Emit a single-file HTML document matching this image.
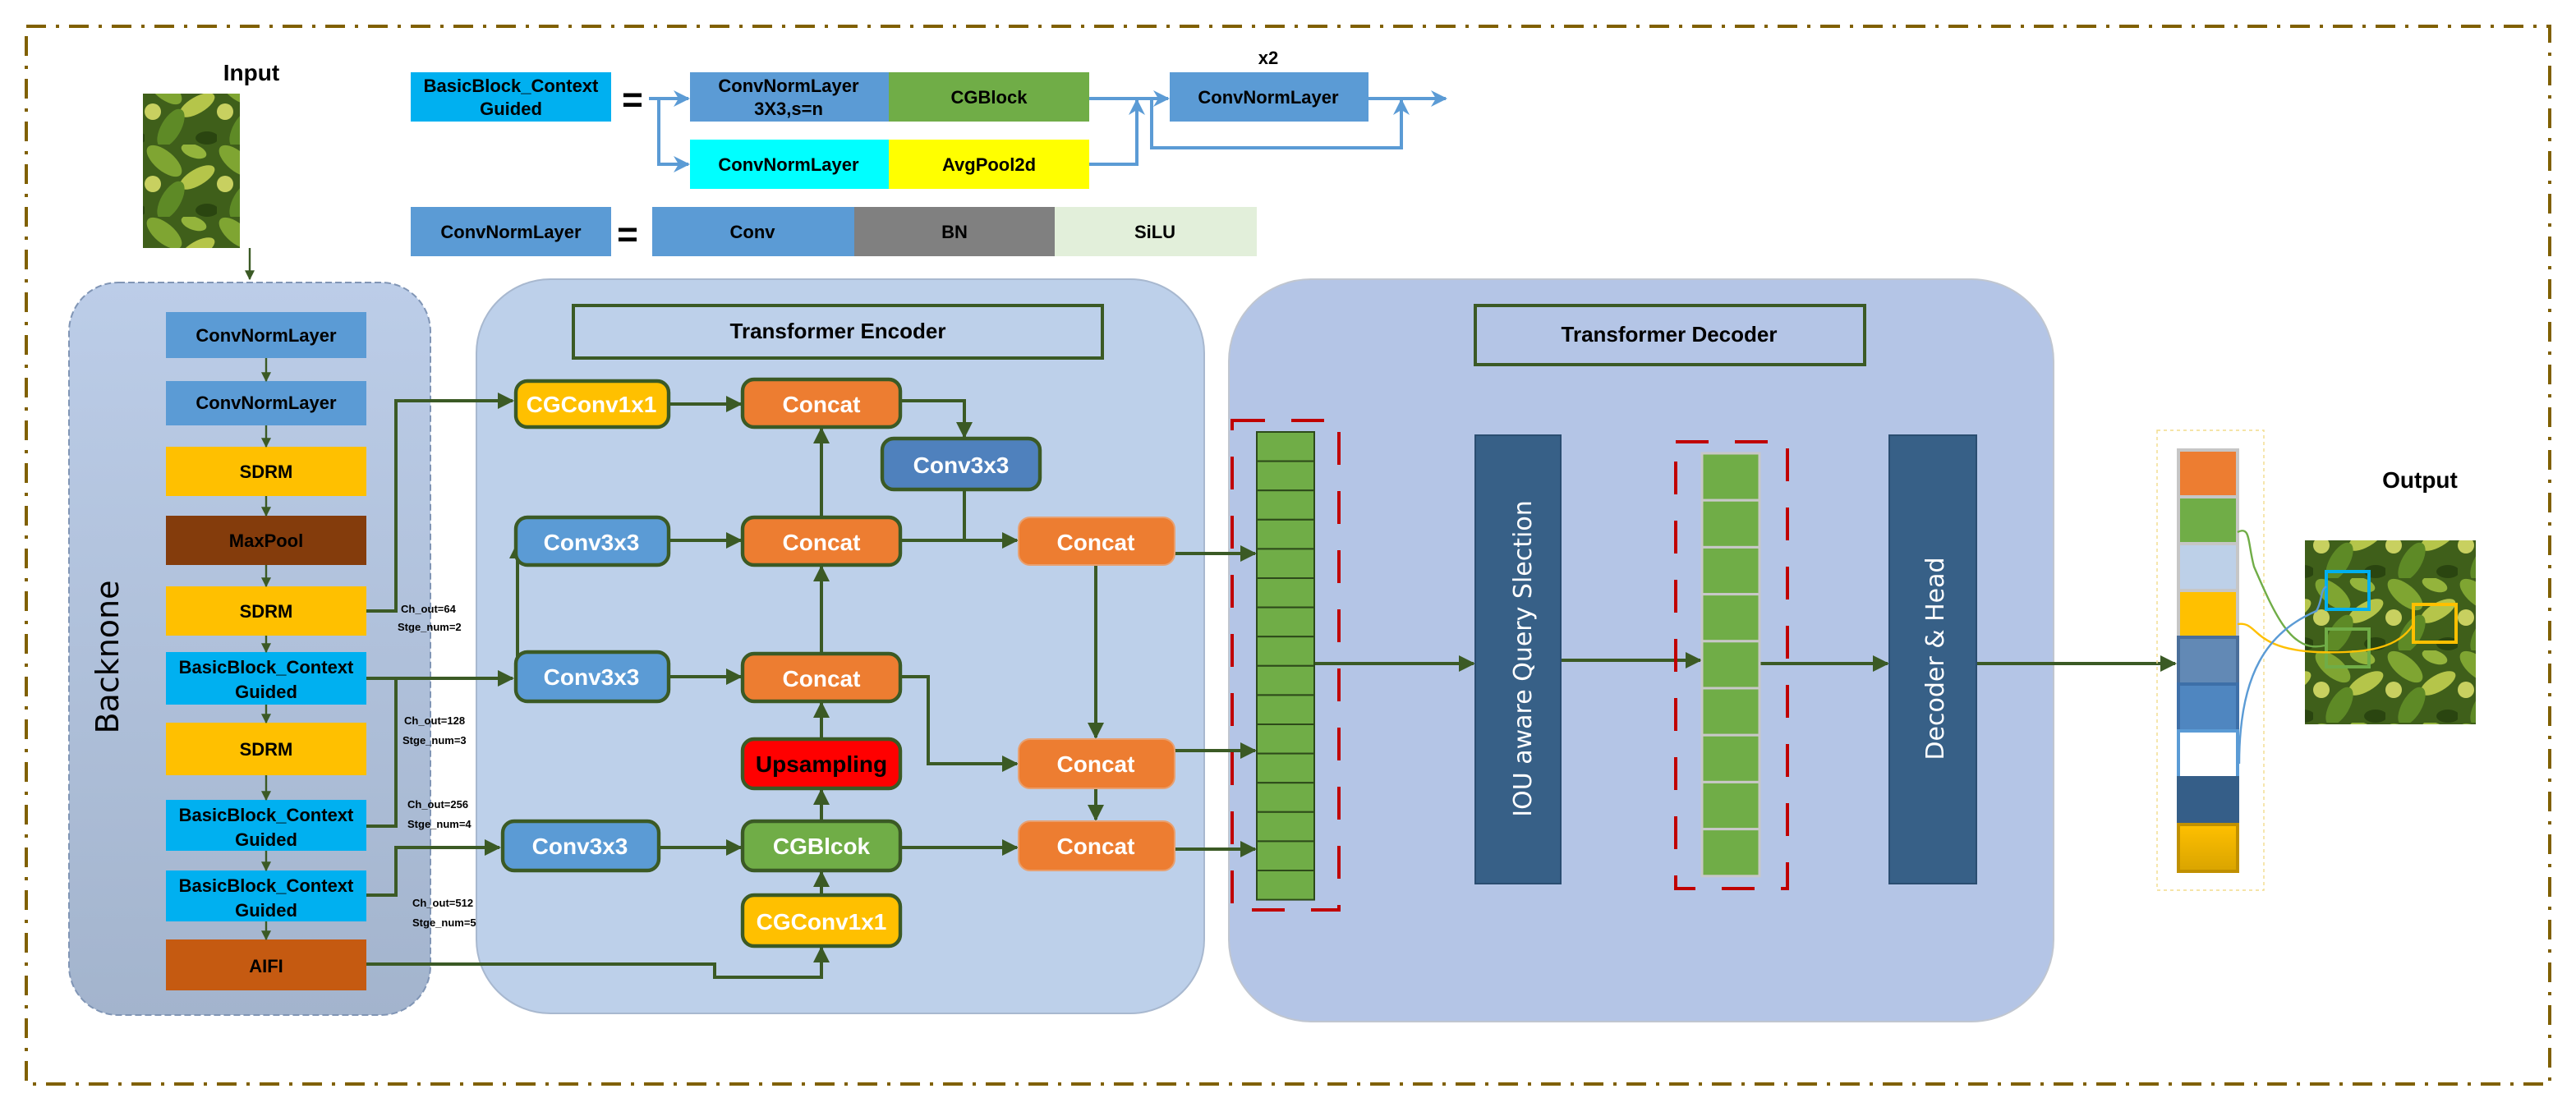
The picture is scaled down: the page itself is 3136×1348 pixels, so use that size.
<!DOCTYPE html>
<html><head><meta charset="utf-8"><style>html,body{margin:0;padding:0;background:#fff}svg{display:block}text{font-family:"Liberation Sans",sans-serif}</style></head><body>
<svg width="3136" height="1348" viewBox="0 0 1568 674" xmlns="http://www.w3.org/2000/svg">
<defs>
<marker id="ag" viewBox="0 0 10 10" refX="9" refY="5" markerWidth="5" markerHeight="5" orient="auto"><path d="M0,0L10,5L0,10z" fill="#3b5a25"/></marker>
<marker id="ab" viewBox="0 0 10 10" refX="9" refY="5" markerWidth="5" markerHeight="5" orient="auto"><path d="M0,0L10,5L0,10L3,5z" fill="#5b9bd5"/></marker>
<linearGradient id="bb" x1="0" y1="0" x2="0" y2="1"><stop offset="0" stop-color="#bccde8"/><stop offset="1" stop-color="#a3b4cd"/></linearGradient>
<linearGradient id="gold" x1="0" y1="0" x2="0" y2="1"><stop offset="0" stop-color="#ffc000"/><stop offset="1" stop-color="#d9a400"/></linearGradient>
<pattern id="leaf" width="44" height="44" patternUnits="userSpaceOnUse">
<rect width="44" height="44" fill="#3f5f1a"/>
<ellipse cx="12" cy="10" rx="13" ry="6" transform="rotate(40 12 10)" fill="#7fa532"/>
<ellipse cx="32" cy="20" rx="12" ry="5" transform="rotate(-30 32 20)" fill="#b5c54a"/>
<ellipse cx="16" cy="34" rx="13" ry="6" transform="rotate(-60 16 34)" fill="#5e8a26"/>
<ellipse cx="38" cy="40" rx="7" ry="4" fill="#2a4510"/>
<circle cx="5" cy="24" r="5" fill="#c8d060"/>
<ellipse cx="30" cy="4" rx="8" ry="4" transform="rotate(20 30 4)" fill="#94b43c"/>
</pattern>
</defs>

<rect x="16" y="16" width="1536" height="644" fill="none" stroke="#806000" stroke-width="2" stroke-dasharray="12,6,2,6"/>

<text x="153" y="49" font-size="14" font-weight="bold" text-anchor="middle">Input</text>
<rect x="87" y="57" width="59" height="94" fill="url(#leaf)"/>
<line x1="152" y1="151" x2="152" y2="170" stroke="#3b5a25" stroke-width="1.2" marker-end="url(#ag)"/>

<rect x="250" y="44" width="122" height="30" fill="#00b0f0"/>
<text x="311" y="56" font-size="11" font-weight="bold" text-anchor="middle">BasicBlock_Context</text>
<text x="311" y="70" font-size="11" font-weight="bold" text-anchor="middle">Guided</text>
<text x="385" y="68" font-size="22" font-weight="bold" text-anchor="middle">=</text>
<rect x="420" y="44" width="121" height="30" fill="#5b9bd5"/>
<text x="480" y="56" font-size="11" font-weight="bold" text-anchor="middle">ConvNormLayer</text>
<text x="480" y="70" font-size="11" font-weight="bold" text-anchor="middle">3X3,s=n</text>
<rect x="541" y="44" width="122" height="30" fill="#70ad47"/>
<text x="602" y="63" font-size="11" font-weight="bold" text-anchor="middle">CGBlock</text>
<rect x="420" y="85" width="121" height="30" fill="#00ffff"/>
<text x="480" y="104" font-size="11" font-weight="bold" text-anchor="middle">ConvNormLayer</text>
<rect x="541" y="85" width="122" height="30" fill="#ffff00"/>
<text x="602" y="104" font-size="11" font-weight="bold" text-anchor="middle">AvgPool2d</text>
<g stroke="#5b9bd5" stroke-width="2" fill="none">
<path d="M395,60H419" marker-end="url(#ab)"/>
<path d="M401,60V100H419" marker-end="url(#ab)"/>
<path d="M663,60H711" marker-end="url(#ab)"/>
<path d="M663,100H692V61" marker-end="url(#ab)"/>
<path d="M833,60H880" marker-end="url(#ab)"/>
<path d="M701,60V90H853V61" marker-end="url(#ab)"/>
</g>
<text x="772" y="39" font-size="11" font-weight="bold" text-anchor="middle">x2</text>
<rect x="712" y="44" width="121" height="30" fill="#5b9bd5"/>
<text x="772" y="63" font-size="11" font-weight="bold" text-anchor="middle">ConvNormLayer</text>

<rect x="250" y="126" width="122" height="30" fill="#5b9bd5"/>
<text x="311" y="145" font-size="11" font-weight="bold" text-anchor="middle">ConvNormLayer</text>
<text x="382" y="150" font-size="22" font-weight="bold" text-anchor="middle">=</text>
<rect x="397" y="126" width="123" height="30" fill="#5b9bd5"/>
<text x="458" y="145" font-size="11" font-weight="bold" text-anchor="middle">Conv</text>
<rect x="520" y="126" width="122" height="30" fill="#808080"/>
<text x="581" y="145" font-size="11" font-weight="bold" text-anchor="middle">BN</text>
<rect x="642" y="126" width="123" height="30" fill="#e2efda"/>
<text x="703" y="145" font-size="11" font-weight="bold" text-anchor="middle">SiLU</text>

<!-- backbone -->
<rect x="42" y="172" width="220" height="446" rx="30" fill="url(#bb)" stroke="#8095b5" stroke-dasharray="4,2"/>
<text transform="translate(72,400) rotate(-90)" font-size="19" text-anchor="middle" fill="#000" style="font-family:'DejaVu Sans',sans-serif">Backnone</text>
<g font-size="11" font-weight="bold" text-anchor="middle">
<rect x="101" y="190" width="122" height="28" fill="#5b9bd5"/><text x="162" y="208">ConvNormLayer</text>
<rect x="101" y="232" width="122" height="27" fill="#5b9bd5"/><text x="162" y="249">ConvNormLayer</text>
<rect x="101" y="272" width="122" height="30" fill="#ffc000"/><text x="162" y="291">SDRM</text>
<rect x="101" y="314" width="122" height="30" fill="#843c0c"/><text x="162" y="333">MaxPool</text>
<rect x="101" y="357" width="122" height="30" fill="#ffc000"/><text x="162" y="376">SDRM</text>
<rect x="101" y="397" width="122" height="32" fill="#00b0f0"/><text x="162" y="410">BasicBlock_Context</text><text x="162" y="425">Guided</text>
<rect x="101" y="440" width="122" height="32" fill="#ffc000"/><text x="162" y="460">SDRM</text>
<rect x="101" y="487" width="122" height="31" fill="#00b0f0"/><text x="162" y="500">BasicBlock_Context</text><text x="162" y="515">Guided</text>
<rect x="101" y="530" width="122" height="31" fill="#00b0f0"/><text x="162" y="543">BasicBlock_Context</text><text x="162" y="558">Guided</text>
<rect x="101" y="572" width="122" height="31" fill="#c55a11"/><text x="162" y="592">AIFI</text>
</g>
<g stroke="#3b5a25" stroke-width="1.2" marker-end="url(#ag)">
<line x1="162" y1="218" x2="162" y2="232"/><line x1="162" y1="259" x2="162" y2="272"/>
<line x1="162" y1="302" x2="162" y2="314"/><line x1="162" y1="344" x2="162" y2="357"/>
<line x1="162" y1="387" x2="162" y2="397"/><line x1="162" y1="429" x2="162" y2="440"/>
<line x1="162" y1="472" x2="162" y2="487"/><line x1="162" y1="518" x2="162" y2="530"/>
<line x1="162" y1="561" x2="162" y2="572"/>
</g>

<!-- encoder panel -->
<rect x="290" y="170" width="443" height="447" rx="45" fill="#bdd0ea" stroke="#a8b8cf"/>
<rect x="349" y="186" width="322" height="32" fill="none" stroke="#3b5a25" stroke-width="2"/>
<text x="510" y="206" font-size="13" font-weight="bold" text-anchor="middle">Transformer Encoder</text>

<g font-size="6.5" font-weight="bold">
<text x="244" y="373">Ch_out=64</text><text x="242" y="384">Stge_num=2</text>
<text x="246" y="441">Ch_out=128</text><text x="245" y="453">Stge_num=3</text>
<text x="248" y="492">Ch_out=256</text><text x="248" y="504">Stge_num=4</text>
<text x="251" y="552">Ch_out=512</text><text x="251" y="564">Stge_num=5</text>
</g>

<!-- decoder panel -->
<rect x="748" y="170" width="502" height="452" rx="50" fill="#b4c5e6" stroke="#c0c6d0"/>
<rect x="898" y="186" width="237" height="36" fill="none" stroke="#3b5a25" stroke-width="2"/>
<text x="1016" y="208" font-size="13" font-weight="bold" text-anchor="middle">Transformer Decoder</text>

<g stroke="#3b5a25" stroke-width="2" fill="none">
<path d="M223,372H241V244H312" marker-end="url(#ag)"/>
<path d="M223,413H312" marker-end="url(#ag)"/>
<path d="M223,503H241V413"/>
<path d="M223,545H241V516H304" marker-end="url(#ag)"/>
<path d="M315,412V331" marker-end="url(#ag)"/>
<path d="M407,246H451" marker-end="url(#ag)"/>
<path d="M548,244H587V266" marker-end="url(#ag)"/>
<path d="M587,298V329"/>
<path d="M407,329H451" marker-end="url(#ag)"/>
<path d="M548,329H619" marker-end="url(#ag)"/>
<path d="M500,315V261" marker-end="url(#ag)"/>
<path d="M500,398V345" marker-end="url(#ag)"/>
<path d="M500,450V428" marker-end="url(#ag)"/>
<path d="M500,500V481" marker-end="url(#ag)"/>
<path d="M500,545V531" marker-end="url(#ag)"/>
<path d="M407,412H451" marker-end="url(#ag)"/>
<path d="M548,412H565V465H619" marker-end="url(#ag)"/>
<path d="M667,344V449" marker-end="url(#ag)"/>
<path d="M667,480V499" marker-end="url(#ag)"/>
<path d="M401,516H451" marker-end="url(#ag)"/>
<path d="M548,516H619" marker-end="url(#ag)"/>
<path d="M223,587H435V595H500V577" marker-end="url(#ag)"/>
<path d="M715,337H764" marker-end="url(#ag)"/>
<path d="M715,457H764" marker-end="url(#ag)"/>
<path d="M715,517H764" marker-end="url(#ag)"/>
<path d="M800,404H897" marker-end="url(#ag)"/>
<path d="M950,402H1035" marker-end="url(#ag)"/>
<path d="M1071,404H1149" marker-end="url(#ag)"/>
<path d="M1203,404H1324" marker-end="url(#ag)"/>
</g>

<g font-size="14" font-weight="bold" text-anchor="middle" stroke-width="2.2">
<rect x="314" y="232" width="93" height="28" rx="7" fill="#ffc000" stroke="#3b5a25"/><text x="360" y="251" fill="#fff">CGConv1x1</text>
<rect x="452" y="231" width="96" height="29" rx="7" fill="#ed7d31" stroke="#3b5a25"/><text x="500" y="251" fill="#fff">Concat</text>
<rect x="537" y="267" width="96" height="31" rx="7" fill="#4f81bd" stroke="#3b5a25"/><text x="585" y="288" fill="#fff">Conv3x3</text>
<rect x="314" y="315" width="93" height="29" rx="7" fill="#5b9bd5" stroke="#3b5a25"/><text x="360" y="335" fill="#fff">Conv3x3</text>
<rect x="452" y="315" width="96" height="29" rx="7" fill="#ed7d31" stroke="#3b5a25"/><text x="500" y="335" fill="#fff">Concat</text>
<rect x="620" y="315" width="95" height="29" rx="7" fill="#ed7d31" stroke="#e8a070" stroke-width="1"/><text x="667" y="335" fill="#fff">Concat</text>
<rect x="314" y="397" width="93" height="30" rx="7" fill="#5b9bd5" stroke="#3b5a25"/><text x="360" y="417" fill="#fff">Conv3x3</text>
<rect x="452" y="398" width="96" height="29" rx="7" fill="#ed7d31" stroke="#3b5a25"/><text x="500" y="418" fill="#fff">Concat</text>
<rect x="452" y="450" width="96" height="30" rx="7" fill="#ff0000" stroke="#3b5a25"/><text x="500" y="470" fill="#000">Upsampling</text>
<rect x="620" y="450" width="95" height="30" rx="7" fill="#ed7d31" stroke="#e8a070" stroke-width="1"/><text x="667" y="470" fill="#fff">Concat</text>
<rect x="306" y="500" width="95" height="30" rx="7" fill="#5b9bd5" stroke="#3b5a25"/><text x="353" y="520" fill="#fff">Conv3x3</text>
<rect x="452" y="500" width="96" height="30" rx="7" fill="#70ad47" stroke="#3b5a25"/><text x="500" y="520" fill="#fff">CGBlcok</text>
<rect x="620" y="500" width="95" height="30" rx="7" fill="#ed7d31" stroke="#e8a070" stroke-width="1"/><text x="667" y="520" fill="#fff">Concat</text>
<rect x="452" y="545" width="96" height="31" rx="7" fill="#ffc000" stroke="#3b5a25"/><text x="500" y="566" fill="#fff">CGConv1x1</text>
</g>

<rect x="750" y="256" width="65" height="298" fill="none" stroke="#c00000" stroke-width="2" stroke-dasharray="20,16"/>
<g fill="#70ad47" stroke="#2d4a1a" stroke-width="1">
<rect x="765" y="263" width="35" height="17.8"/><rect x="765" y="280.8" width="35" height="17.8"/><rect x="765" y="298.6" width="35" height="17.8"/><rect x="765" y="316.4" width="35" height="17.8"/>
<rect x="765" y="334.2" width="35" height="17.8"/><rect x="765" y="352" width="35" height="17.8"/><rect x="765" y="369.8" width="35" height="17.8"/><rect x="765" y="387.6" width="35" height="17.8"/>
<rect x="765" y="405.4" width="35" height="17.8"/><rect x="765" y="423.2" width="35" height="17.8"/><rect x="765" y="441" width="35" height="17.8"/><rect x="765" y="458.8" width="35" height="17.8"/>
<rect x="765" y="476.6" width="35" height="17.8"/><rect x="765" y="494.4" width="35" height="17.8"/><rect x="765" y="512.2" width="35" height="17.8"/><rect x="765" y="530" width="35" height="17.8"/>
</g>

<rect x="898" y="265" width="52" height="273" fill="#376087" stroke="#2a4d70"/>
<text transform="translate(932,401) rotate(-90)" font-size="15" fill="#fff" text-anchor="middle" style="font-family:'DejaVu Sans',sans-serif">IOU aware Query Slection</text>

<rect x="1020" y="269" width="68" height="272" fill="none" stroke="#c00000" stroke-width="2" stroke-dasharray="20,16"/>
<g fill="#70ad47" stroke="#c8c8c8" stroke-width="1.5">
<rect x="1036" y="276" width="35" height="28.6"/><rect x="1036" y="304.6" width="35" height="28.6"/><rect x="1036" y="333.2" width="35" height="28.6"/>
<rect x="1036" y="361.8" width="35" height="28.6"/><rect x="1036" y="390.4" width="35" height="28.6"/><rect x="1036" y="419" width="35" height="28.6"/>
<rect x="1036" y="447.6" width="35" height="28.6"/><rect x="1036" y="476.2" width="35" height="28.6"/><rect x="1036" y="504.8" width="35" height="28.6"/>
</g>

<rect x="1150" y="265" width="53" height="273" fill="#376087" stroke="#2a4d70"/>
<text transform="translate(1183,401) rotate(-90)" font-size="15" fill="#fff" text-anchor="middle" style="font-family:'DejaVu Sans',sans-serif">Decoder &amp; Head</text>

<rect x="1313" y="262" width="65" height="280" fill="none" stroke="#f2dc8a" stroke-width="0.7" stroke-dasharray="2,2"/>
<g stroke="#c6c6c6" stroke-width="2">
<rect x="1326" y="274" width="36" height="28.5" fill="#ed7d31"/>
<rect x="1326" y="302.5" width="36" height="28.5" fill="#70ad47"/>
<rect x="1326" y="331" width="36" height="28.5" fill="#bdd0e8"/>
<rect x="1326" y="359.5" width="36" height="28.5" fill="#ffc000"/>
<rect x="1326" y="388" width="36" height="28.5" fill="#6289b5" stroke="#4a6e9a"/>
<rect x="1326" y="416.5" width="36" height="28.5" fill="#4f86c0" stroke="#3d6fa8"/>
<rect x="1326" y="445" width="36" height="28.5" fill="#ffffff" stroke="#5b9bd5"/>
<rect x="1326" y="473.5" width="36" height="28.5" fill="#355e88" stroke="#355e88"/>
<rect x="1326" y="502" width="36" height="28.5" fill="url(#gold)" stroke="#c09000"/>
</g>

<text x="1473" y="297" font-size="14" font-weight="bold" text-anchor="middle">Output</text>
<rect x="1403" y="329" width="104" height="112" fill="url(#leaf)"/>
<rect x="1416" y="348" width="26" height="23" fill="none" stroke="#00b0f0" stroke-width="2"/>
<rect x="1469" y="368" width="26" height="23" fill="none" stroke="#ffc000" stroke-width="2"/>
<rect x="1416" y="383" width="26" height="23" fill="none" stroke="#70ad47" stroke-width="2"/>
<g fill="none" stroke-width="1.2">
<path d="M1362,324C1370,320 1368,330 1372,345C1385,375 1395,398 1415,393" stroke="#70ad47"/>
<path d="M1362,380C1375,378 1370,395 1410,397C1440,398 1460,395 1469,380" stroke="#ffc000"/>
<path d="M1363,465C1363,410 1380,385 1410,372C1414,365 1412,360 1416,357" stroke="#5b9bd5"/>
</g>
</svg>
</body></html>
